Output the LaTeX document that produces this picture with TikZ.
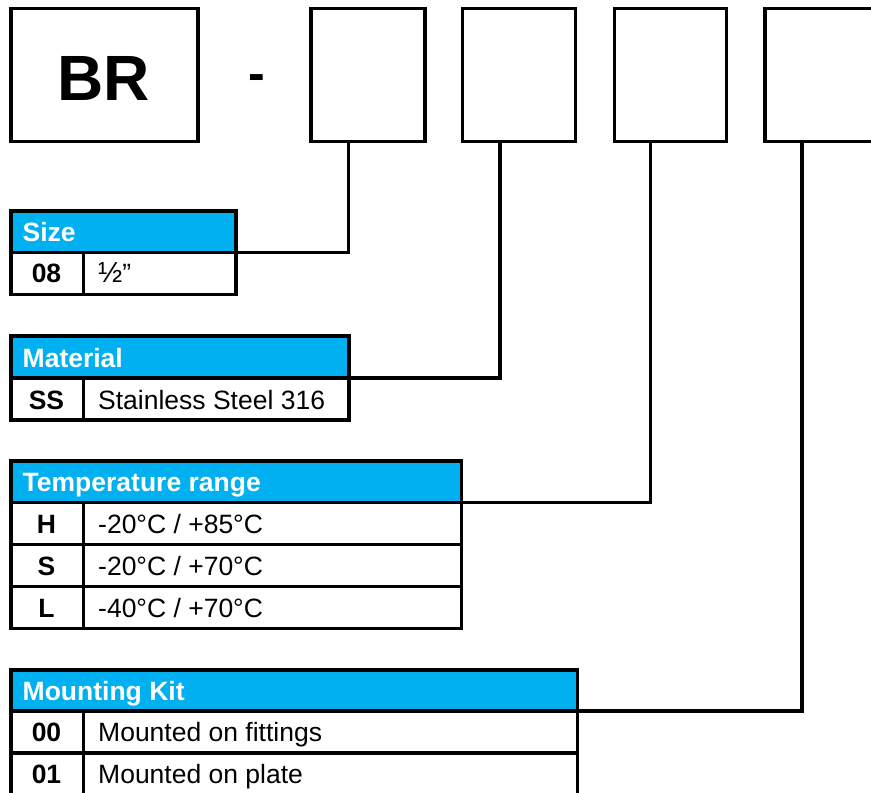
\documentclass[tikz,border=0pt]{standalone}
\usepackage{fontspec}
\setmainfont{Liberation Sans}
\definecolor{hdr}{HTML}{00B0F0}
\tikzset{
  frame/.style={draw=black, line width=3.5pt, outer sep=0pt, inner sep=0pt, anchor=north west},
  codebox/.style={frame, fill=white},
  head/.style={frame, fill=hdr},
  cell/.style={frame, fill=white, minimum height=42pt},
  htext/.style={anchor=base west, inner sep=0pt, text=white, font=\fontsize{26.5}{30}\selectfont\bfseries},
  ctext/.style={anchor=base, inner sep=0pt, font=\fontsize{26.5}{30}\selectfont\bfseries},
  dtext/.style={anchor=base west, inner sep=0pt, font=\fontsize{26.5}{30}\selectfont},
  link/.style={draw=black, line width=3.5pt, line join=miter}
}
\begin{document}
\begin{tikzpicture}[x=1pt, y=-1pt]
\useasboundingbox (0,0) rectangle (871,793);
\clip (0,0) rectangle (871,793);

% top code boxes
\node[codebox, minimum width=187pt, minimum height=133pt] (br) at (10.75,8.5) {};
\node[anchor=base, inner sep=0pt, font=\fontsize{64}{70}\selectfont\bfseries] (brt) at (104,100) {BR};
\node[anchor=base, inner sep=0pt, font=\fontsize{50}{56}\selectfont\bfseries] (dash) at (257,90) {-};
\node[codebox, minimum width=114pt, minimum height=133pt] (b1) at (311,8.5) {};
\node[codebox, minimum width=113pt, minimum height=133pt] (b2) at (462.4,8.5) {};
\node[codebox, minimum width=112pt, minimum height=133pt] (b3) at (614.4,8.5) {};
\node[codebox, minimum width=114pt, minimum height=133pt] (b4) at (765,8.5) {};

% Size table
\node[head, minimum width=225pt, minimum height=41.3pt] (sizeH) at (10.75,211) {};
\node[htext] (sizeT) at (22.5,241) {Size};
\node[cell, minimum width=72.6pt] (sizeC1) at (10.75,252.3) {};
\node[cell, minimum width=152.4pt] (sizeD1) at (83.35,252.3) {};
\node[ctext] (sizeC1t) at (46.5,282.5) {08};
\node[dtext] (sizeD1t) at (98,282.5) {{\fontsize{29}{30}\selectfont ½}”};

% Material table
\node[head, minimum width=338.25pt, minimum height=42pt] (matH) at (10.75,335.75) {};
\node[htext] (matT) at (22.5,367) {Material};
\node[cell, minimum width=72.6pt] (matC1) at (10.75,377.75) {};
\node[cell, minimum width=265.65pt] (matD1) at (83.35,377.75) {};
\node[ctext] (matC1t) at (46.5,409) {SS};
\node[dtext] (matD1t) at (98,409) {Stainless Steel 316};

% Temperature table
\node[head, minimum width=450.85pt, minimum height=41.7pt] (tmpH) at (10.75,461) {};
\node[htext] (tmpT) at (22.5,491.5) {Temperature range};
\node[cell, minimum width=72.6pt] (tmpC1) at (10.75,502.7) {};
\node[cell, minimum width=378.25pt] (tmpD1) at (83.35,502.7) {};
\node[cell, minimum width=72.6pt] (tmpC2) at (10.75,544.7) {};
\node[cell, minimum width=378.25pt] (tmpD2) at (83.35,544.7) {};
\node[cell, minimum width=72.6pt] (tmpC3) at (10.75,586.7) {};
\node[cell, minimum width=378.25pt] (tmpD3) at (83.35,586.7) {};
\node[ctext] (tmpC1t) at (46.5,533.4) {H};
\node[dtext] (tmpD1t) at (98,533.4) {-20°C / +85°C};
\node[ctext] (tmpC2t) at (46.5,575.4) {S};
\node[dtext] (tmpD2t) at (98,575.4) {-20°C / +70°C};
\node[ctext] (tmpC3t) at (46.5,617.2) {L};
\node[dtext] (tmpD3t) at (98,617.2) {-40°C / +70°C};

% Mounting kit table
\node[head, minimum width=566.75pt, minimum height=41pt] (mntH) at (10.75,670) {};
\node[htext] (mntT) at (22.5,700) {Mounting Kit};
\node[cell, minimum width=72.6pt] (mntC1) at (10.75,711) {};
\node[cell, minimum width=494.15pt] (mntD1) at (83.35,711) {};
\node[cell, minimum width=72.6pt] (mntC2) at (10.75,753) {};
\node[cell, minimum width=494.15pt] (mntD2) at (83.35,753) {};
\node[ctext] (mntC1t) at (46.5,741.5) {00};
\node[dtext] (mntD1t) at (98,741.5) {Mounted on fittings};
\node[ctext] (mntC2t) at (46.5,783.5) {01};
\node[dtext] (mntD2t) at (98,783.5) {Mounted on plate};

% connectors
\draw[link] ([xshift=37.7pt]b1.south west) |- (sizeH.south east);
\draw[link] ([xshift=37.6pt]b2.south west) |- (matH.south east);
\draw[link] ([xshift=36.3pt]b3.south west) |- (tmpH.south east);
\draw[link] ([xshift=37pt]b4.south west) |- (mntH.south east);
\end{tikzpicture}
\end{document}
